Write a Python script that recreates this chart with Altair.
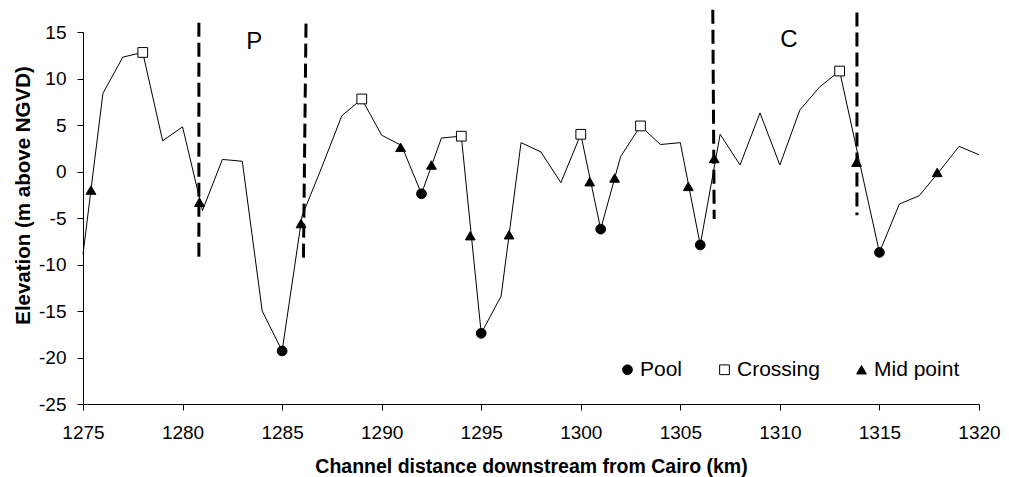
import altair as alt
import pandas as pd

# ---- data ----
line_km = [1275, 1276, 1277, 1278, 1279, 1280, 1281, 1282, 1283, 1284, 1285, 1286,
           1287, 1288, 1289, 1290, 1291, 1292, 1293, 1294, 1295, 1296, 1297, 1298,
           1299, 1300, 1301, 1302, 1303, 1304, 1305, 1306, 1307, 1308, 1309, 1310,
           1311, 1312, 1313, 1314, 1315, 1316, 1317, 1318, 1319, 1320]
line_elev = [-8.9, 8.4, 12.3, 12.8, 3.3, 4.8, -4.2, 1.3, 1.1, -15.0, -19.3, -4.8,
             0.5, 6.0, 7.8, 3.9, 2.8, -2.4, 3.6, 3.8, -17.4, -13.4, 3.1, 2.1,
             -1.2, 4.0, -6.2, 1.6, 4.9, 2.9, 3.1, -7.9, 4.0, 0.7, 6.3, 0.7,
             6.6, 9.1, 10.8, 1.0, -8.7, -3.5, -2.6, 0.0, 2.7, 1.8]

pool_km = [1285, 1292, 1295, 1301, 1306, 1315]
pool_elev = [-19.3, -2.4, -17.4, -6.2, -7.9, -8.7]

cross_km = [1278, 1289, 1294, 1300, 1303, 1313]
cross_elev = [12.8, 7.8, 3.8, 4.0, 4.9, 10.8]

mid_km = [1275.4, 1280.85, 1285.95, 1290.95, 1292.5, 1294.45, 1296.4, 1300.45,
          1301.7, 1305.4, 1306.7, 1313.85, 1317.9]
mid_elev = [-2.0, -3.3, -5.6, 2.6, 0.7, -6.9, -6.8, -1.1,
            -0.7, -1.6, 1.4, 1.0, -0.1]

type_names = ["Pool", "Crossing", "Mid point"]

# dashed reach boundaries (top and bottom ends)
bound_km_top = [1280.82, 1286.2, 1306.63, 1313.87]
bound_km_bot = [1280.82, 1286.07, 1306.7, 1313.87]
bound_elev_top = [16.0, 15.9, 17.4, 17.1]
bound_elev_bot = [-9.4, -9.6, -5.1, -4.7]

reach_labels = ["P", "C"]
reach_km = [1283.6, 1310.45]
reach_elev = [13.9, 14.15]

# ---- tables ----
df_line = pd.DataFrame({"km": line_km, "elev": line_elev})
df_pts = pd.concat([
    pd.DataFrame({"km": pool_km, "elev": pool_elev, "type": type_names[0]}),
    pd.DataFrame({"km": cross_km, "elev": cross_elev, "type": type_names[1]}),
    pd.DataFrame({"km": mid_km, "elev": mid_elev, "type": type_names[2]}),
], ignore_index=True)
df_bound = pd.DataFrame({"k1": bound_km_top, "k2": bound_km_bot,
                         "e1": bound_elev_top, "e2": bound_elev_bot})
df_text = pd.DataFrame({"km": reach_km, "elev": reach_elev, "label": reach_labels})

FONT = "Liberation Sans"
xs = alt.Scale(domain=[1275, 1320], nice=False, zero=False)
ys = alt.Scale(domain=[-25, 15], nice=False, zero=False)

x_axis = alt.Axis(values=list(range(1275, 1321, 5)), labelExpr="'' + datum.value",
                  title="Channel distance downstream from Cairo (km)",
                  labelPadding=13, labelFlush=False,
                  titleBaseline="alphabetic", titleY=68, titleFontSize=19.5)
y_axis = alt.Axis(values=list(range(-25, 16, 5)), labelExpr="'' + datum.value",
                  title="Elevation (m above NGVD)",
                  labelPadding=11, labelFlush=False,
                  titleAngle=-90, titleBaseline="alphabetic",
                  titleX=-54, titleY=163, titleAlign="center", titleFontSize=20.5)

line = alt.Chart(df_line).mark_line(color="black", strokeWidth=1).encode(
    x=alt.X("km:Q", scale=xs, axis=x_axis),
    y=alt.Y("elev:Q", scale=ys, axis=y_axis),
)

bounds = alt.Chart(df_bound).mark_rule(
    color="black", strokeWidth=3, strokeDash=[14, 6], clip=False
).encode(
    x=alt.X("k1:Q", scale=xs),
    x2="k2:Q",
    y=alt.Y("e1:Q", scale=ys),
    y2="e2:Q",
)


def mk_legend():
    return alt.Legend(title=None, orient="none", direction="horizontal",
                      legendX=534, legendY=327, padding=0,
                      labelFont=FONT, labelFontSize=21,
                      labelColor="black", labelOffset=2,
                      columnPadding=31, symbolSize=95,
                      symbolStrokeColor="black", symbolStrokeWidth=1)


points = alt.Chart(df_pts).mark_point(
    size=95, strokeWidth=1, opacity=1, filled=False
).encode(
    x=alt.X("km:Q", scale=xs),
    y=alt.Y("elev:Q", scale=ys),
    shape=alt.Shape("type:N",
                    scale=alt.Scale(domain=type_names,
                                    range=["circle", "square", "triangle-up"]),
                    legend=mk_legend()),
    fill=alt.Fill("type:N",
                  scale=alt.Scale(domain=type_names,
                                  range=["black", "white", "black"]),
                  legend=mk_legend()),
    stroke=alt.Stroke("type:N",
                      scale=alt.Scale(domain=type_names,
                                      range=["black", "black", "black"]),
                      legend=mk_legend()),
)

text = alt.Chart(df_text).mark_text(
    font=FONT, fontSize=24, color="black", align="center", baseline="middle"
).encode(
    x=alt.X("km:Q", scale=xs),
    y=alt.Y("elev:Q", scale=ys),
    text="label:N",
)

chart = alt.layer(line, bounds, points, text).properties(
    width=896, height=372,
    autosize=alt.AutoSizeParams(type="none"),
    padding={"left": 75, "top": 24, "right": 22, "bottom": 74},
).configure_view(stroke=None).configure_axis(
    grid=False, labelFont=FONT, labelFontSize=19, labelColor="black",
    titleFont=FONT, titleFontWeight="bold", titleColor="black",
    domainColor="black", tickColor="black", tickSize=6, domainWidth=1, tickWidth=1,
)

chart.save("out.html", embed_options={"renderer": "svg", "actions": False})
